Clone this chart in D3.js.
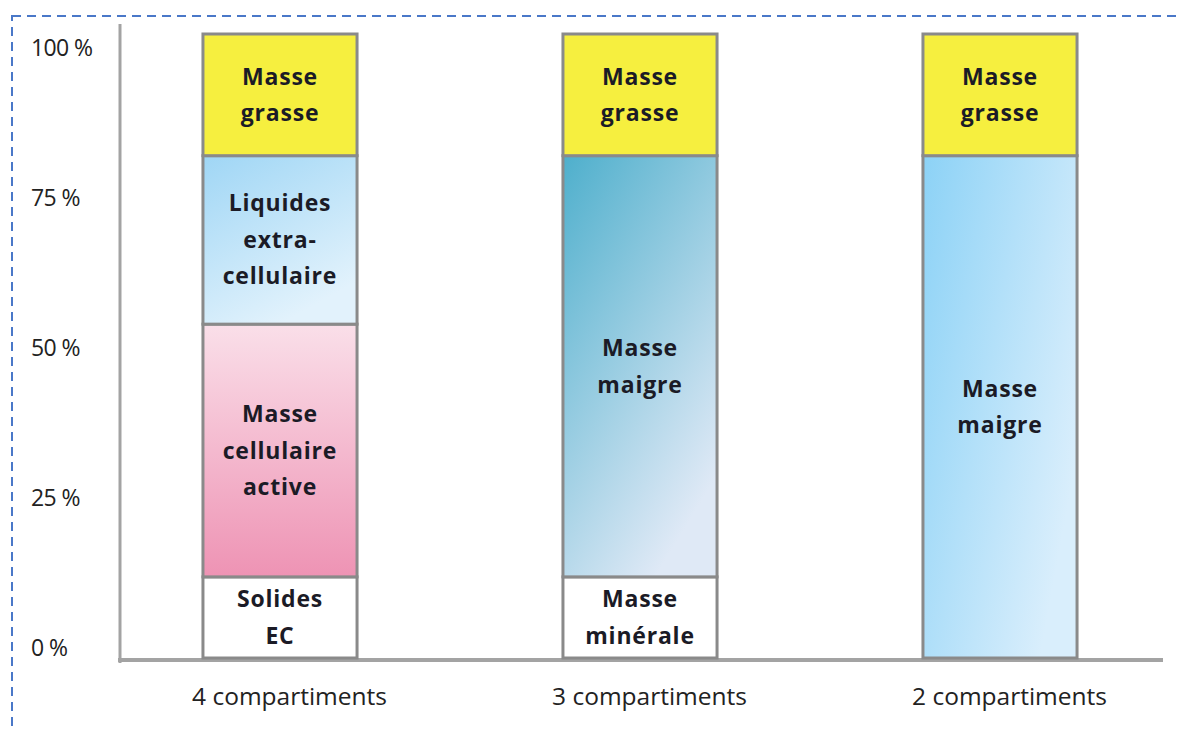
<!DOCTYPE html>
<html>
<head>
<meta charset="utf-8">
<script src="https://cdn.jsdelivr.net/npm/d3@7"></script>
<style>
  body { margin: 0; background: #fff; }
  svg { display: block; font-family: "Open Sans", sans-serif; }
</style>
</head>
<body>
<div class="chart"></div>
<script>
// data
const categories = ["4 compartiments", "3 compartiments", "2 compartiments"];

const labels4 = ["Solides\nEC", "Masse\ncellulaire\nactive", "Liquides\nextra-\ncellulaire", "Masse\ngrasse"];
const values4 = [13, 40.5, 27, 19.5];

const labels3 = ["Masse\nminérale", "Masse\nmaigre", "Masse\ngrasse"];
const values3 = [13, 67.5, 19.5];

const labels2 = ["Masse\nmaigre", "Masse\ngrasse"];
const values2 = [80.5, 19.5];

const tickValues = [0, 25, 50, 75, 100];
const tickLabels = ["0 %", "25 %", "50 %", "75 %", "100 %"];

let width = 1178, height = 729;

let svg = d3.select(".chart").append("svg")
  .attr("width", width)
  .attr("height", height);

// gradients
let defs = svg.append("defs");
function grad(id, x2, y2, c1, c2) {
  let g = defs.append("linearGradient").attr("id", id)
    .attr("x1", 0).attr("y1", 0).attr("x2", x2).attr("y2", y2);
  g.append("stop").attr("offset", "0%").attr("stop-color", c1);
  g.append("stop").attr("offset", "100%").attr("stop-color", c2);
}
grad("gLiq", 0.5, 1, "#9fd6f5", "#e2f2fc");
grad("gCell", 0, 1, "#fadfe9", "#ee93b4");
grad("gMaigre3", 0.6, 1, "#4eafcc", "#dfe9f6");
grad("gMaigre2", 1, 0.6, "#8cd2f6", "#d9eefc");

// fills per bar, bottom to top
const fills = [
  ["#ffffff", "url(#gCell)", "url(#gLiq)", "#f6ef3f"],
  ["#ffffff", "url(#gMaigre3)", "#f6ef3f"],
  ["url(#gMaigre2)", "#f6ef3f"]
];

// dashed frame
svg.append("rect")
  .attr("x", 12).attr("y", 16)
  .attr("width", 1190).attr("height", 740)
  .attr("fill", "none")
  .attr("stroke", "#4a78c8")
  .attr("stroke-width", 2)
  .attr("stroke-dasharray", "9,6");

let y = d3.scaleLinear().domain([0, 100]).range([658, 34]);
let yLabel = d3.scaleLinear().domain([0, 100]).range([648, 48]);
let x = d3.scalePoint().domain(categories).range([100, 1180]).padding(0.5);
let barW = x.step() * 0.428;

// y axis labels
let yAxis = svg.append("g")
  .attr("transform", "translate(31,0)")
  .call(d3.axisLeft(yLabel).tickValues(tickValues)
    .tickFormat((d, i) => tickLabels[i]).tickSize(0).tickPadding(0));
yAxis.select(".domain").remove();
yAxis.selectAll("text")
  .attr("text-anchor", "start")
  .attr("fill", "#222")
  .style("font-size", "23px")
  .style("letter-spacing", "-0.6px")
  .style("font-family", "'Open Sans', sans-serif");

// axis lines
svg.append("line")
  .attr("x1", 120).attr("x2", 120)
  .attr("y1", 24).attr("y2", 663)
  .attr("stroke", "#a3a3a3").attr("stroke-width", 3);
svg.append("line")
  .attr("x1", 118).attr("x2", 1163)
  .attr("y1", 660).attr("y2", 660)
  .attr("stroke", "#a3a3a3").attr("stroke-width", 4);

// stacked bars
const bars = [
  { labels: labels4, values: values4 },
  { labels: labels3, values: values3 },
  { labels: labels2, values: values2 }
];

bars.forEach((b, bi) => {
  let cx = x(categories[bi]);
  let acc = 0;
  let segs = b.values.map((v, i) => {
    let s = { y0: acc, y1: acc + v, label: b.labels[i], fill: fills[bi][i] };
    acc += v;
    return s;
  });

  let g = svg.append("g");
  g.selectAll("rect")
    .data(segs)
    .join("rect")
    .attr("x", cx - barW / 2)
    .attr("width", barW)
    .attr("y", d => y(d.y1))
    .attr("height", d => y(d.y0) - y(d.y1))
    .attr("fill", d => d.fill)
    .attr("stroke", "#8a8a8a")
    .attr("stroke-width", 3);

  let lh = 36.5;
  g.selectAll("text.seg")
    .data(segs)
    .join("text")
    .attr("class", "seg")
    .attr("text-anchor", "middle")
    .attr("fill", "#1b1b26")
    .style("font-size", "23px")
    .style("font-weight", "bold")
    .style("letter-spacing", "0.8px")
    .each(function(d) {
      let lines = d.label.split("\n");
      let mid = (y(d.y0) + y(d.y1)) / 2;
      let top = mid - (lines.length - 1) * lh / 2;
      d3.select(this).selectAll("tspan")
        .data(lines)
        .join("tspan")
        .attr("x", cx)
        .attr("y", (l, k) => top + k * lh)
        .attr("dy", "0.35em")
        .text(l => l);
    });
});

// category labels
let xAxis = svg.append("g")
  .call(d3.axisBottom(x).tickSize(0));
xAxis.select(".domain").remove();
xAxis.selectAll("text")
  .attr("x", 9)
  .attr("y", 696)
  .attr("dy", "0.35em")
  .attr("fill", "#222")
  .style("font-size", "24.5px")
  .style("font-family", "'Open Sans', sans-serif");
</script>
</body>
</html>
